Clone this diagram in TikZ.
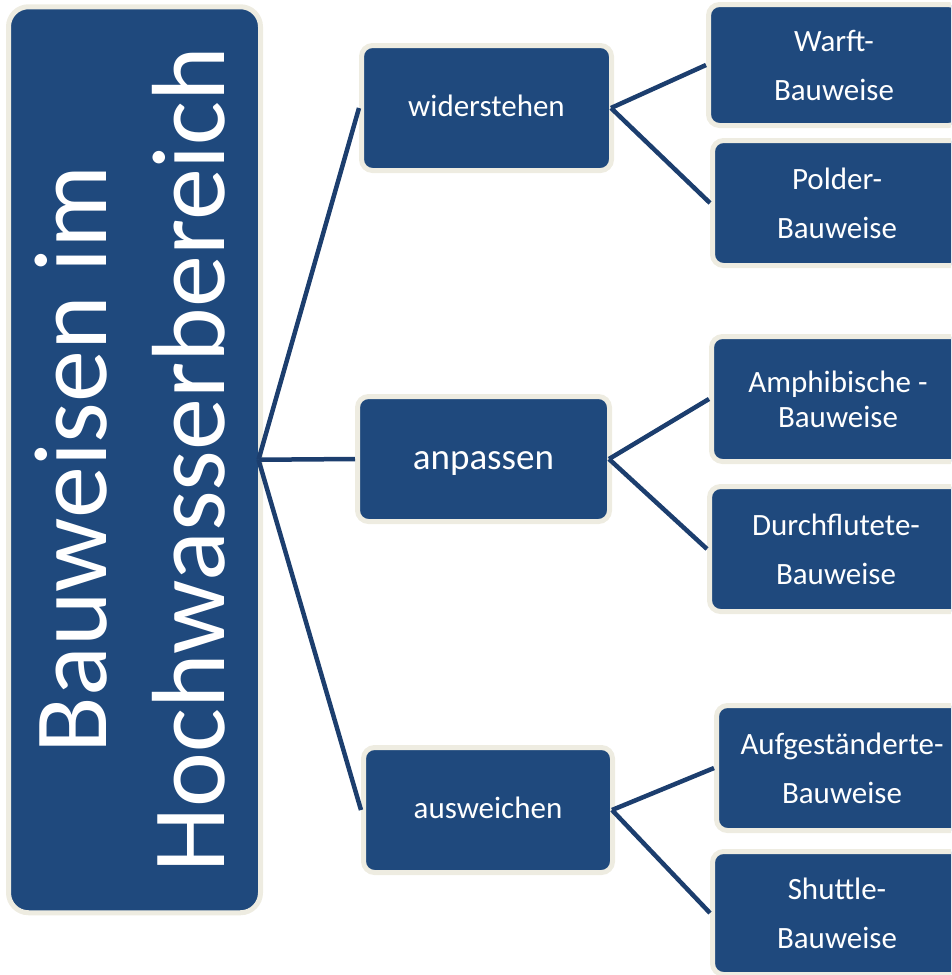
\documentclass[tikz,border=0pt]{standalone}
\usepackage{fontspec}
\setmainfont{Carlito}
\definecolor{boxblue}{HTML}{1F497D}
\definecolor{linkblue}{HTML}{1C3E6E}
\definecolor{cream}{HTML}{EEECE1}
\begin{document}
\begin{tikzpicture}[x=1pt,y=-1pt,
  box/.style={draw=cream, line width=5pt, fill=boxblue, rounded corners=11pt,
              text=white, align=center, inner sep=0pt},
  onebox/.style={box, font=\fontsize{31}{37}\selectfont, text height=25pt, text depth=8pt},
  twobox/.style={box, font=\fontsize{31}{49}\selectfont},
  titletext/.style={text=white, align=center, inner sep=0pt, rotate=90,
              font=\fontsize{104}{118}\selectfont},
  link/.style={draw=linkblue, line width=4.5pt}]
\useasboundingbox (0,0) rectangle (951,975);
\clip (0,0) rectangle (951,975);
% root
\node[box, rounded corners=20pt, minimum width=252pt, minimum height=906pt] (root) at (134.5,459.75) {};
\node[titletext] (title) at (130,459.5) {Bauweisen im\\Hochwasserbereich};
% middle level
\node[onebox, minimum width=250pt, minimum height=125pt] (wid) at (486.5,108) {widerstehen};
\node[onebox, font=\fontsize{37}{44}\selectfont, text height=30pt, text depth=9pt, minimum width=252pt, minimum height=125pt] (anp) at (483.5,459) {anpassen};
\node[onebox, minimum width=249pt, minimum height=125pt] (ausw) at (488,810) {ausweichen};
% right level
\node[twobox, minimum width=251pt, minimum height=121pt] (warft) at (834,65) {Warft-\\Bauweise};
\node[twobox, minimum width=249pt, minimum height=125pt] (polder) at (837,203) {Polder-\\Bauweise};
\node[twobox, font=\fontsize{31}{35}\selectfont, minimum width=253pt, minimum height=125pt] (amph) at (838,399) {Amphibische -\\Bauweise};
\node[twobox, minimum width=253pt, minimum height=125pt] (durch) at (836,549) {Durchflutete-\\Bauweise};
\node[twobox, minimum width=251pt, minimum height=125pt] (aufg) at (842,768) {Aufgeständerte-\\Bauweise};
\node[twobox, minimum width=249pt, minimum height=123pt] (shut) at (837,913) {Shuttle-\\Bauweise};
% connectors
\draw[link] ([xshift=-4.5pt]root.east) -- (wid.west);
\draw[link] ([xshift=-4.5pt]root.east) -- (anp.west);
\draw[link] ([xshift=-4.5pt]root.east) -- (ausw.west);
\draw[link] ([xshift=-3pt]wid.east) -- (warft.west);
\draw[link] ([xshift=-3pt]wid.east) -- (polder.west);
\draw[link] ([xshift=-3pt]anp.east) -- (amph.west);
\draw[link] ([xshift=-3pt]anp.east) -- (durch.west);
\draw[link] ([xshift=-3pt]ausw.east) -- (aufg.west);
\draw[link] ([xshift=-3pt]ausw.east) -- (shut.west);
\end{tikzpicture}
\end{document}
